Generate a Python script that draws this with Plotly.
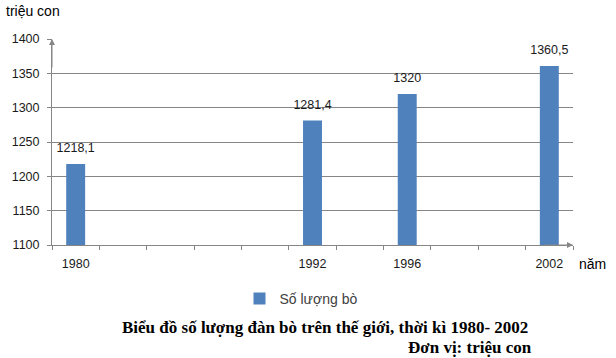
import plotly.graph_objects as go

# Data
years = ["1980", "1992", "1996", "2002"]
cattle = [1218.1, 1281.4, 1320.0, 1360.5]
# category slots of the original axis (blank slots between years)
axis_slots = ["1980", " ", "  ", "   ", "    ", "1992", "     ", "1996", "      ", "       ", "2002"]
y_ticks = [1100, 1150, 1200, 1250, 1300, 1350, 1400]
series_name = "Số lượng bò"

def fmt(v):
    s = ("%.1f" % v).rstrip("0").rstrip(".")
    return s.replace(".", ",")

GRAY = "#868686"
TXT = "#404040"
L, R, T, B = 52, 43, 39, 113
W, H = 616, 358
pw, ph = W - L - R, H - T - B

def px(x):
    return (x - L) / pw

def py(y):
    return (H - B - y) / ph

fig = go.Figure()
fig.add_trace(go.Bar(
    x=years, y=cattle, name=series_name,
    marker=dict(color="#4F81BD", line=dict(width=0)),
    width=0.4,
))
# data labels above bars
fig.add_trace(go.Scatter(
    x=years, y=cattle, mode="markers+text", showlegend=False, hoverinfo="skip",
    text=[fmt(v) for v in cattle], textposition="top center",
    marker=dict(size=12, opacity=0),
    textfont=dict(family="Liberation Sans", size=12.5, color="#1a1a1a"),
    cliponaxis=False,
))

fig.update_layout(
    width=W, height=H,
    margin=dict(l=L, r=R, t=T, b=B),
    paper_bgcolor="white", plot_bgcolor="white",
    showlegend=True,
    legend=dict(orientation="h", x=px(301), y=py(299), xanchor="center", yanchor="middle",
                font=dict(family="Liberation Sans", size=14, color=TXT)),
    font=dict(family="Liberation Sans", size=12, color=TXT),
    xaxis=dict(type="category", categoryorder="array", categoryarray=axis_slots,
               range=[-0.5, len(axis_slots) - 0.5],
               tickmode="array", tickvals=axis_slots, ticktext=axis_slots,
               tickson="boundaries", ticks="outside", ticklen=4, tickcolor=GRAY,
               ticklabelstandoff=7,
               showline=True, linecolor=GRAY, linewidth=1, showgrid=False,
               tickfont=dict(family="Liberation Sans", size=12.5, color="#1a1a1a")),
    yaxis=dict(range=[1100, 1400], tickvals=y_ticks, ticks="outside", ticklen=4,
               tickcolor=GRAY, showline=True, linecolor=GRAY, linewidth=1,
               ticklabelstandoff=5,
               showgrid=True, gridcolor=GRAY, gridwidth=1, zeroline=False,
               tickfont=dict(family="Liberation Sans", size=12.5, color="#1a1a1a")),
    bargap=0.6,
)

# axis arrows
fig.add_annotation(xref="x domain", yref="y domain", x=0, y=1, ax=0, ay=30,
                   showarrow=True, arrowhead=2,
                   arrowsize=1.2, arrowwidth=1, arrowcolor=GRAY, text="")
fig.add_annotation(xref="x domain", yref="y domain", x=1.0, y=0, ax=-30, ay=0,
                   showarrow=True, arrowhead=2, arrowsize=1.2, arrowwidth=1,
                   arrowcolor=GRAY, text="")

fig.add_annotation(xref="paper", yref="paper", x=px(4), y=py(11), xanchor="left", yanchor="middle",
                   text="triệu con", showarrow=False,
                   font=dict(family="Liberation Sans", size=14, color="#000000"))
fig.add_annotation(xref="paper", yref="paper", x=px(577), y=py(264), xanchor="left", yanchor="middle",
                   text="năm", showarrow=False,
                   font=dict(family="Liberation Sans", size=14, color="#000000"))
fig.add_annotation(xref="paper", yref="paper", x=px(325), y=py(327), xanchor="center", yanchor="middle",
                   text="<b>Biểu đồ số lượng đàn bò trên thế giới, thời kì 1980- 2002</b>", showarrow=False,
                   font=dict(family="Liberation Serif", size=17, color="#000000"))
fig.add_annotation(xref="paper", yref="paper", x=px(534), y=py(347), xanchor="right", yanchor="middle",
                   text="<b>Đơn vị: triệu con</b>", showarrow=False,
                   font=dict(family="Liberation Serif", size=17, color="#000000"))

fig.write_html("out.html")
